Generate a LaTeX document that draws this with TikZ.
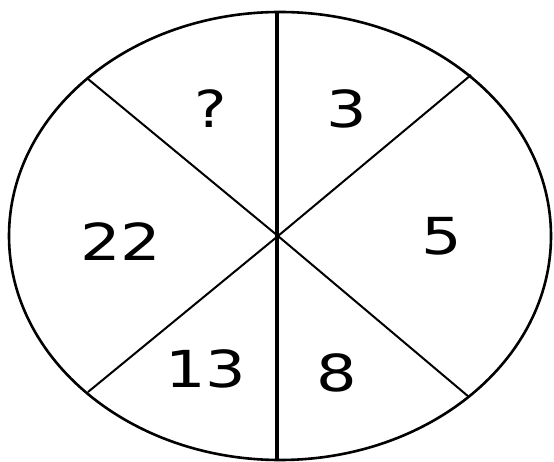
\documentclass[tikz,border=0pt]{standalone}
\usepackage{fontspec}
\setmainfont{DejaVu Sans}
\usetikzlibrary{shapes.geometric}
\begin{document}
\begin{tikzpicture}[x=1pt,y=-1pt,
  rim/.style={draw=black,line width=2.6pt},
  spoke/.style={draw=black,line width=2pt},
  axis/.style={draw=black,line width=3.4pt},
  num/.style={font=\fontsize{51}{51}\selectfont,inner sep=0pt,text=black}]
\useasboundingbox (0,0) rectangle (554,462);
\coordinate (c) at (278,236);
\node[rim,ellipse,inner sep=0pt,minimum width=542pt,minimum height=448pt] (e) at (280,236) {};
\coordinate (top) at (277,12);
\coordinate (bot) at (277,460);
\coordinate (ul) at (88,79);
\coordinate (ur) at (471,75);
\coordinate (ll) at (88,392);
\coordinate (lr) at (469,397);
\draw[axis] (top) -- (bot);
\draw[spoke] (ul) -- (c) -- (lr);
\draw[spoke] (ur) -- (c) -- (ll);
\node[num] (q) at (211,109) {\scalebox{1.2}[1]{?}};
\node[num] (n3) at (347,109) {\scalebox{1.25}[1]{3}};
\node[num] (n22) at (121,242) {\scalebox{1.25}[1]{22}};
\node[num] (n5) at (442,236) {\scalebox{1.25}[1]{5}};
\node[num] (n13) at (206,369) {\scalebox{1.25}[1]{13}};
\node[num] (n8) at (337,373) {\scalebox{1.25}[1]{8}};
\end{tikzpicture}
\end{document}
